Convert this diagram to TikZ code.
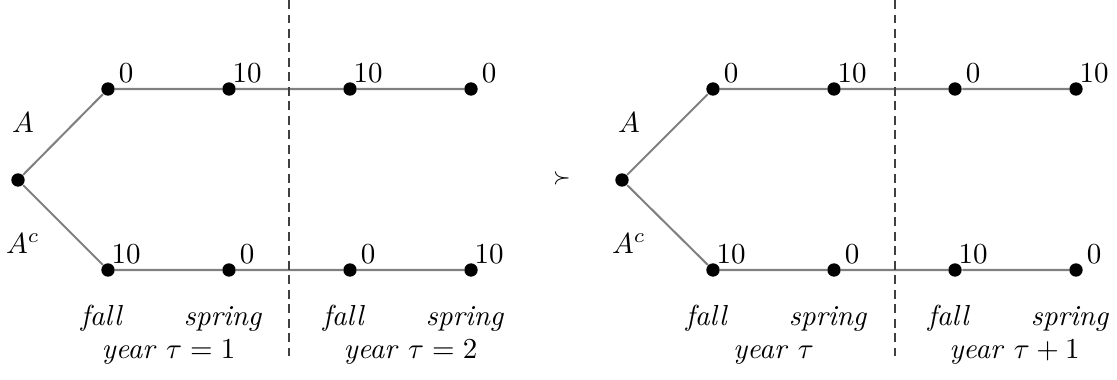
\documentclass[tikz,border=0pt]{standalone}
\usetikzlibrary{calc}
\begin{document}
\begin{tikzpicture}[x=0.345pt,y=-0.345pt,
  dot/.style={circle,fill=black,inner sep=0pt,minimum size=4.6pt},
  branch/.style={draw=black!50,line width=0.7pt},
  val/.style={anchor=base,inner sep=0pt},
  divider/.style={draw=black!75,line width=0.4pt,dash pattern=on 3pt off 2pt},
  lbl/.style={anchor=base,inner sep=0pt}]
\useasboundingbox (0,0) rectangle (1117,379);
% left tree
\node[dot] (r1) at (18,180) {};
\node[dot] (u11) at (108,89) {};
\node[dot] (u12) at (229,89) {};
\node[dot] (u13) at (350,89) {};
\node[dot] (u14) at (471,89) {};
\node[dot] (l11) at (108,270) {};
\node[dot] (l12) at (229,270) {};
\node[dot] (l13) at (350,270) {};
\node[dot] (l14) at (471,270) {};
\draw[branch] (r1) -- (u11) -- (u12) -- (u13) -- (u14);
\draw[branch] (r1) -- (l11) -- (l12) -- (l13) -- (l14);
% right tree
\node[dot] (r2) at (622,180) {};
\node[dot] (u21) at (713,89) {};
\node[dot] (u22) at (834,89) {};
\node[dot] (u23) at (955,89) {};
\node[dot] (u24) at (1076,89) {};
\node[dot] (l21) at (713,270) {};
\node[dot] (l22) at (834,270) {};
\node[dot] (l23) at (955,270) {};
\node[dot] (l24) at (1076,270) {};
\draw[branch] (r2) -- (u21) -- (u22) -- (u23) -- (u24);
\draw[branch] (r2) -- (l21) -- (l22) -- (l23) -- (l24);
% values
\foreach \n/\v in {u11/0,u12/10,u13/10,u14/0,l11/10,l12/0,l13/0,l14/10,
                   u21/0,u22/10,u23/0,u24/10,l21/10,l22/0,l23/10,l24/0}{
  \node[val] (v-\n) at ($(\n)+(18,-7)$) {$\v$};
}
% branch labels
\node[lbl] (a1) at (23,132) {$A$};
\node[lbl] (ac1) at (23,253) {$A^c$};
\node[lbl] (a2) at (629,132) {$A$};
\node[lbl] (ac2) at (629,253) {$A^c$};
% dividers
\coordinate (d1t) at (289,0);
\coordinate (d1b) at (289,356);
\coordinate (d2t) at (895,0);
\coordinate (d2b) at (895,356);
\draw[divider] (d1t) -- (d1b);
\draw[divider] (d2t) -- (d2b);
% season labels
\node[lbl] (f11) at (102,325) {\textit{fall}};
\node[lbl] (s11) at (223,325) {\textit{spring}};
\node[lbl] (f12) at (344,325) {\textit{fall}};
\node[lbl] (s12) at (465,325) {\textit{spring}};
\node[lbl] (f21) at (707,325) {\textit{fall}};
\node[lbl] (s21) at (828,325) {\textit{spring}};
\node[lbl] (f22) at (949,325) {\textit{fall}};
\node[lbl] (s22) at (1070,325) {\textit{spring}};
% year labels
\node[lbl] (y1) at (168.5,358) {\textit{year} $\tau = 1$};
\node[lbl] (y2) at (410.5,358) {\textit{year} $\tau = 2$};
\node[lbl] (y3) at (773.5,358) {\textit{year} $\tau$};
\node[lbl] (y4) at (1014.5,358) {\textit{year} $\tau + 1$};
% preference
\node[inner sep=0pt] (succ) at (562,178) {$\scriptstyle\succ$};
\end{tikzpicture}
\end{document}
